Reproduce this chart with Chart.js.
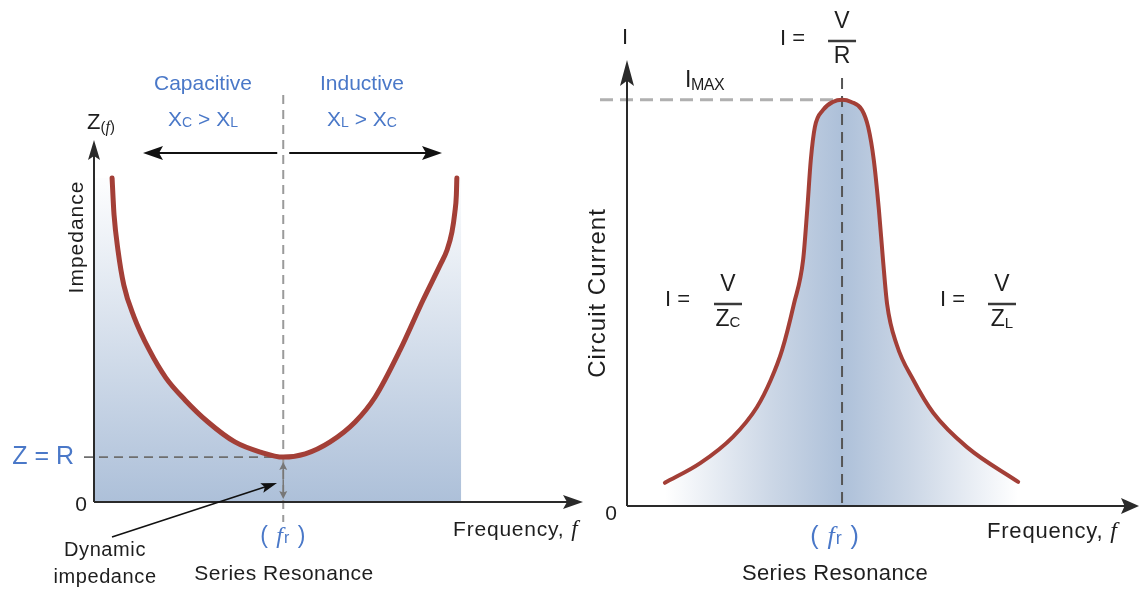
<!DOCTYPE html>
<html>
<head>
<meta charset="utf-8">
<script src="https://cdn.jsdelivr.net/npm/chart.js@4.4.1/dist/chart.umd.min.js"></script>
<style>
  html, body { margin: 0; padding: 0; background: #fff; }
  #wrap { position: relative; width: 1139px; height: 589px; overflow: hidden; }
  #impChart { position: absolute; left: 0; top: 0; }
  #curChart { position: absolute; left: 580px; top: 0; }
</style>
</head>
<body>
<div id="wrap">
  <canvas id="impChart" width="600" height="589"></canvas>
  <canvas id="curChart" width="559" height="589"></canvas>
</div>
<script>
// Left: impedance vs frequency (arbitrary units, axis 0..100)
const zFreq = [3.7, 3.9, 4.1, 4.9, 6.1, 8.2, 11.3, 14.7, 18.6, 23.3, 28.8, 34.0, 38.7, 43.2, 48.3, 53.4, 57.5, 62.6, 67.3, 70.8, 72.2, 73.2, 73.8, 74.1, 74.2];
const zImp  = [89.5, 84.0, 79.3, 69.6, 59.9, 51.1, 42.0, 34.3, 28.2, 22.1, 16.6, 13.8, 12.4, 13.3, 16.6, 22.1, 29.0, 42.0, 55.8, 65.5, 69.6, 74.6, 80.1, 84.8, 89.5];
const zShadeEdge = [0, 75.1];     // shaded band runs from the axis to here
const zRes = 38.7, zR = 12.4;     // resonance frequency, Z = R

// Right: circuit current vs frequency
const iFreq = [7.4, 14.3, 20.7, 25.4, 28.1, 30.3, 32.6, 34.4, 35.2, 35.9, 36.7, 38.3, 40.2, 42.0, 43.8, 45.9, 47.1, 48.2, 49.2, 50.0, 50.8, 52.7, 55.9, 59.8, 66.4, 76.4];
const iCur  = [5.2, 9.6, 15.5, 22.2, 28.3, 35.0, 45.3, 55.2, 66.4, 77.6, 85.0, 88.8, 90.6, 91.1, 90.6, 88.8, 85.0, 77.6, 66.4, 55.2, 45.3, 36.1, 28.3, 20.9, 13.2, 5.4];
const iRes = 42.0, iMax = 91.1;

const BLUE = '#4a78c8', INK = '#1e1e1e', CURVE = '#a33f37';
const SANS = '"Liberation Sans", Arial, sans-serif';
const SERIF = '"Liberation Serif", "Times New Roman", serif';

const pts = (xs, ys) => xs.map((x, i) => ({ x, y: ys[i] }));

function dashed(c, x1, y1, x2, y2, color, lw, dash) {
  c.save();
  c.strokeStyle = color; c.lineWidth = lw; c.setLineDash(dash);
  c.beginPath(); c.moveTo(x1, y1); c.lineTo(x2, y2); c.stroke();
  c.restore();
}

function arrow(c, x1, y1, x2, y2, color, lw, hl, hw) {
  const a = Math.atan2(y2 - y1, x2 - x1), ca = Math.cos(a), sa = Math.sin(a);
  c.save();
  c.strokeStyle = color; c.fillStyle = color; c.lineWidth = lw; c.setLineDash([]);
  c.beginPath(); c.moveTo(x1, y1); c.lineTo(x2 - ca * hl * 0.7, y2 - sa * hl * 0.7); c.stroke();
  c.beginPath();
  c.moveTo(x2, y2);
  c.lineTo(x2 - ca * hl + sa * hw, y2 - sa * hl - ca * hw);
  c.lineTo(x2 - ca * hl * 0.8, y2 - sa * hl * 0.8);
  c.lineTo(x2 - ca * hl - sa * hw, y2 - sa * hl + ca * hw);
  c.closePath(); c.fill();
  c.restore();
}

// parts: [text, size, dy, italic, serif]
function rich(c, parts, x, y, align, color, ls) {
  c.save();
  c.fillStyle = color || INK; c.textBaseline = 'middle'; c.textAlign = 'left';
  c.letterSpacing = (ls || 0) + 'px';
  const fontOf = p => (p[3] ? 'italic ' : '') + p[1] + 'px ' + (p[4] ? SERIF : SANS);
  let w = 0;
  const ws = parts.map(p => { c.font = fontOf(p); const m = c.measureText(p[0]).width; w += m; return m; });
  let cx = align === 'center' ? x - w / 2 : align === 'right' ? x - w : x;
  parts.forEach((p, i) => { c.font = fontOf(p); c.fillText(p[0], cx, y + (p[2] || 0)); cx += ws[i]; });
  c.restore();
}

function txt(c, s, x, y, size, color, align, ls) {
  rich(c, [[s, size]], x, y, align || 'center', color, ls);
}

function vtxt(c, s, x, y, size, ls) {
  c.save(); c.translate(x, y); c.rotate(-Math.PI / 2);
  txt(c, s, 0, 0, size, INK, 'center', ls);
  c.restore();
}

function frac(c, num, den, x, y, size) {
  rich(c, [[num, size]], x, y - 17, 'center');
  c.save(); c.strokeStyle = '#3a3a3a'; c.lineWidth = 2.5;
  c.beginPath(); c.moveTo(x - 14, y + 2); c.lineTo(x + 14, y + 2); c.stroke(); c.restore();
  rich(c, den, x, y + 18, 'center');
}

const decorLeft = {
  id: 'decorLeft',
  afterDatasetDraw(chart, args) {
    if (args.index !== 1) return;
    const c = chart.ctx, xs = chart.scales.x, ys = chart.scales.y;
    const xr = xs.getPixelForValue(zRes), yr = ys.getPixelForValue(zR), y0 = ys.getPixelForValue(0);
    dashed(c, xr, 95, xr, 522, '#9a9a9a', 2, [9, 6]);
    dashed(c, 84, yr, xr, yr, '#6e6e6e', 1.6, [9, 6]);
    // dynamic impedance span
    arrow(c, xr, (yr + y0) / 2, xr, yr + 5, '#777', 1.5, 8, 4);
    arrow(c, xr, (yr + y0) / 2, xr, y0 - 3, '#777', 1.5, 8, 4);
  },
  afterDatasetsDraw(chart) {
    const c = chart.ctx, a = chart.chartArea;
    const xr = chart.scales.x.getPixelForValue(zRes);
    arrow(c, a.left, a.bottom, a.left, a.top, '#2a2a2a', 2, 20, 6);
    arrow(c, a.left, a.bottom, a.right, a.bottom, '#2a2a2a', 2, 20, 7);
    arrow(c, xr - 6, 153, 143, 153, '#111', 2, 20, 7);
    arrow(c, xr + 6, 153, 442, 153, '#111', 2, 20, 7);
    arrow(c, 112, 537, 277, 483, '#111', 1.6, 16, 5);

    txt(c, 'Capacitive', 203, 84, 21, BLUE);
    txt(c, 'Inductive', 362, 84, 21, BLUE);
    rich(c, [['X', 21], ['C', 14, 3], [' > ', 21], ['X', 21], ['L', 14, 3]], 203, 120, 'center', BLUE);
    rich(c, [['X', 21], ['L', 14, 3], [' > ', 21], ['X', 21], ['C', 14, 3]], 362, 120, 'center', BLUE);
    rich(c, [['Z', 22], ['(', 15, 5], ['f', 16, 5, true, true], [')', 15, 5]], 87, 123, 'left');
    vtxt(c, 'Impedance', 77, 237, 21, 1);
    txt(c, 'Z = R', 74, 457, 25, BLUE, 'right');
    txt(c, '0', 81, 505, 21, INK);
    rich(c, [['( ', 23], ['f', 24, 0, true, true], ['r', 16, 2], [' )', 23]], xr, 537, 'center', BLUE, 1);
    txt(c, 'Series Resonance', 284, 574, 21, INK, 'center', 0.5);
    rich(c, [['Frequency, ', 21], ['f', 23, 0, true, true]], 453, 530, 'left', INK, 0.8);
    txt(c, 'Dynamic', 105, 550, 20, INK, 'center', 0.6);
    txt(c, 'impedance', 105, 577, 20, INK, 'center', 0.6);
  }
};

const decorRight = {
  id: 'decorRight',
  afterDatasetDraw(chart, args) {
    if (args.index !== 1) return;
    const c = chart.ctx, xs = chart.scales.x, ys = chart.scales.y;
    const xr = xs.getPixelForValue(iRes), ym = ys.getPixelForValue(iMax), y0 = ys.getPixelForValue(0);
    dashed(c, 20, ym, xr, ym, '#b0b0b0', 3, [13, 7]);
    dashed(c, xr, 78, xr, y0, '#555', 2, [11, 7]);
  },
  afterDatasetsDraw(chart) {
    const c = chart.ctx, a = chart.chartArea;
    const xr = chart.scales.x.getPixelForValue(iRes);
    arrow(c, a.left, a.bottom, a.left, a.top, '#2a2a2a', 2, 26, 7);
    arrow(c, a.left, a.bottom, a.right, a.bottom, '#2a2a2a', 2, 18, 8);

    txt(c, 'I', a.left - 2, 38, 22, INK);
    txt(c, 'I =', 200, 39, 22, INK, 'left');
    frac(c, 'V', [['R', 23]], xr, 39, 23);
    rich(c, [['I', 23], ['MAX', 16, 5]], 105, 81, 'left', INK, -0.5);
    txt(c, 'I =', 85, 300, 22, INK, 'left');
    frac(c, 'V', [['Z', 23], ['C', 15, 3]], 148, 302, 23);
    txt(c, 'I =', 360, 300, 22, INK, 'left');
    frac(c, 'V', [['Z', 23], ['L', 15, 4]], 422, 302, 23);
    vtxt(c, 'Circuit Current', 18, 293, 24, 1);
    txt(c, '0', 31, 514, 21, INK);
    rich(c, [['( ', 25], ['f', 26, 0, true, true], ['r', 18, 2], [' )', 25]], xr - 7, 537, 'center', BLUE, 1);
    txt(c, 'Series Resonance', 255, 574, 22, INK, 'center', 0.4);
    rich(c, [['Frequency, ', 22], ['f', 24, 0, true, true]], 407, 532, 'left', INK, 0.8);
  }
};

const baseOptions = (padding) => ({
  responsive: false,
  animation: false,
  layout: { padding },
  plugins: { legend: { display: false }, tooltip: { enabled: false } },
  scales: {
    x: { type: 'linear', min: 0, max: 100, display: false },
    y: { type: 'linear', min: 0, max: 100, display: false }
  },
  elements: { point: { radius: 0 } }
});

// left chart
new Chart(document.getElementById('impChart').getContext('2d'), {
  type: 'line',
  data: {
    datasets: [
      { data: pts(zFreq, zImp), borderColor: CURVE, borderWidth: 5, borderCapStyle: 'round',
        cubicInterpolationMode: 'monotone', fill: false },
      { data: [{ x: zShadeEdge[0], y: zImp[0] }, ...pts(zFreq, zImp), { x: zShadeEdge[1], y: zImp[zImp.length - 1] }],
        borderWidth: 0, borderColor: 'rgba(0,0,0,0)', cubicInterpolationMode: 'monotone', fill: 'origin',
        backgroundColor: ctx => {
          const ch = ctx.chart;
          if (!ch.chartArea) return 'rgba(0,0,0,0)';
          const ys = ch.scales.y;
          const g = ch.ctx.createLinearGradient(0, ys.getPixelForValue(zImp[0]) - 8, 0, ys.getPixelForValue(0));
          g.addColorStop(0, '#ffffff');
          g.addColorStop(1, '#adc0d9');
          return g;
        } }
    ]
  },
  options: baseOptions({ left: 94, right: 17, top: 140, bottom: 87 }),
  plugins: [decorLeft]
});

// right chart
new Chart(document.getElementById('curChart').getContext('2d'), {
  type: 'line',
  data: {
    datasets: [
      { data: pts(iFreq, iCur), borderColor: CURVE, borderWidth: 4, borderCapStyle: 'round',
        cubicInterpolationMode: 'monotone', fill: false },
      { data: pts(iFreq, iCur), borderWidth: 0, borderColor: 'rgba(0,0,0,0)',
        cubicInterpolationMode: 'monotone', fill: 'origin',
        backgroundColor: ctx => {
          const ch = ctx.chart;
          if (!ch.chartArea) return 'rgba(0,0,0,0)';
          const xs = ch.scales.x;
          const g = ch.ctx.createLinearGradient(xs.getPixelForValue(iFreq[0]), 0, xs.getPixelForValue(iFreq[iFreq.length - 1]), 0);
          g.addColorStop(0, '#ffffff');
          g.addColorStop(0.3, '#ccd7e6');
          g.addColorStop(0.5, '#adc0d9');
          g.addColorStop(0.7, '#ccd7e6');
          g.addColorStop(1, '#ffffff');
          return g;
        } }
    ]
  },
  options: baseOptions({ left: 47, right: 0, top: 60, bottom: 83 }),
  plugins: [decorRight]
});
</script>
</body>
</html>
